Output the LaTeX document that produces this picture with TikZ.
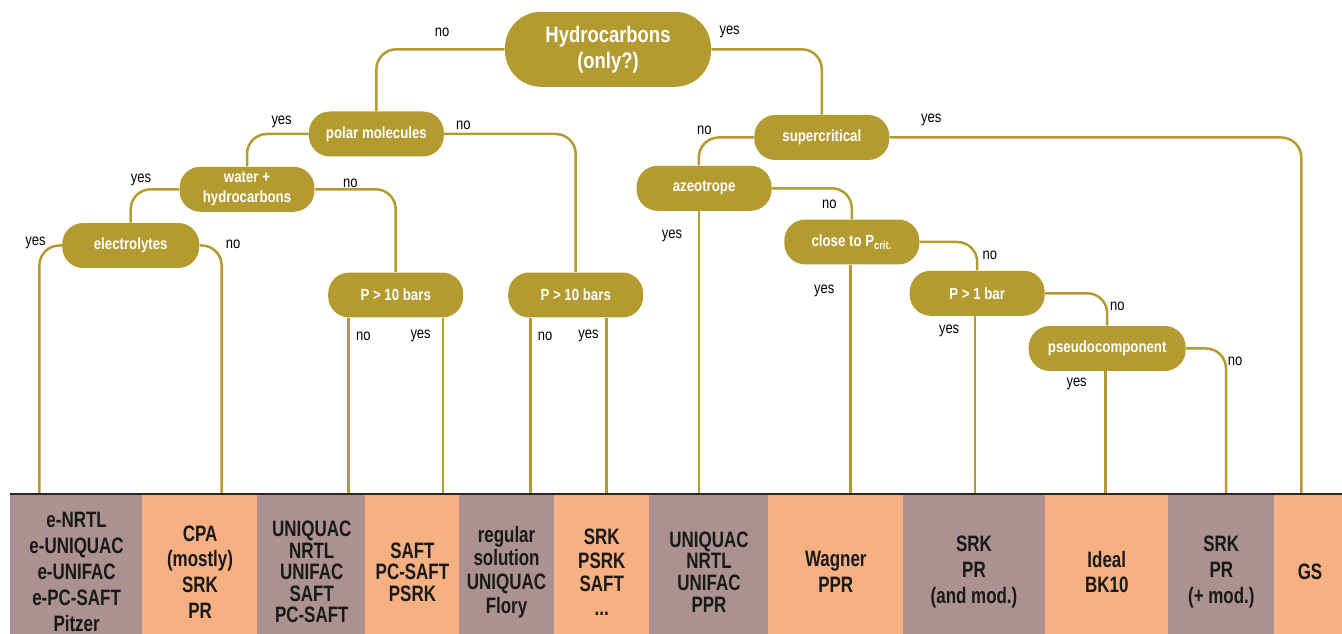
\documentclass[tikz,border=0pt]{standalone}
\usepackage{fontspec}
\setmainfont{Liberation Sans}[FakeStretch=0.82]
\newfontfamily\boxfont{Liberation Sans}[FakeStretch=0.76]
\usepackage{tikz}
\usetikzlibrary{calc}
\usepackage{xcolor}
\definecolor{gold}{HTML}{B39B30}
\definecolor{mauve}{HTML}{AB9291}
\definecolor{peach}{HTML}{F6B082}

\begin{document}
\begin{tikzpicture}[x=0.02cm,y=-0.02cm,
pill/.style={rectangle,rounded corners=0.42cm,fill=gold,text=white,
  font=\fontsize{9.2}{11}\selectfont\bfseries,minimum width=2.7cm,
  minimum height=0.9cm,inner sep=0pt,align=center},
link/.style={draw=gold,line width=0.05cm,rounded corners=0.4cm},
lbl/.style={font=\fontsize{9}{10}\selectfont,inner sep=0pt},
leaf/.style={rectangle,minimum height=3.12cm,inner sep=0pt,align=center,
  text=black!90,font=\boxfont\fontsize{12.7}{14.7}\selectfont\bfseries},
tight/.style={font=\boxfont\fontsize{12.7}{12.3}\selectfont\bfseries}]
%\tikzstyle{every node}=[draw]
\useasboundingbox (0,0) rectangle (1342,634);

% questions
\node[pill,minimum width=4.12cm,minimum height=1.5cm,rounded corners=0.72cm,
  font=\fontsize{12.8}{14.7}\selectfont\bfseries] (root) at (608,49.3) {Hydrocarbons\\(only?)};
\node[pill] (polar) at (376.4,134) {polar molecules};
\node[pill,font=\fontsize{9.2}{11.3}\selectfont\bfseries] (water) at (247,189.3) {water +\\hydrocarbons};
\node[pill,minimum width=2.74cm] (elec) at (130.7,245.5) {electrolytes};
\node[pill] (pa) at (395.7,295) {P > 10 bars};
\node[pill] (pb) at (575.7,295) {P > 10 bars};
\node[pill] (super) at (821.8,137.5) {supercritical};
\node[pill] (azeo) at (704.1,188.3) {azeotrope};
\node[pill] (close) at (851.8,242) {close to P\textsubscript{crit.}};
\node[pill] (pc) at (977.2,293.3) {P > 1 bar};
\node[pill,minimum width=3.14cm] (pseudo) at (1107.2,348.5) {pseudocomponent};

% models
\node[leaf,fill=mauve,minimum width=2.656cm] (b1) at (76.6,572) {e-NRTL\\e-UNIQUAC\\e-UNIFAC\\e-PC-SAFT\\Pitzer};
\node[leaf,fill=peach,minimum width=2.322cm] (b2) at (200.05,572) {CPA\\(mostly)\\SRK\\PR};
\node[leaf,tight,fill=mauve,minimum width=2.186cm] (b3) at (311.75,572) {UNIQUAC\\NRTL\\UNIFAC\\SAFT\\PC-SAFT};
\node[leaf,tight,fill=peach,minimum width=1.882cm] (b4) at (412.45,572) {SAFT\\PC-SAFT\\PSRK};
\node[leaf,fill=mauve,minimum width=1.92cm,font=\boxfont\fontsize{12.7}{13.4}\selectfont\bfseries] (b5) at (506.5,572) {regular\\solution\\UNIQUAC\\Flory};
\node[leaf,fill=peach,minimum width=1.93cm,font=\boxfont\fontsize{12.7}{13.4}\selectfont\bfseries] (b6) at (601.75,572) {SRK\\PSRK\\SAFT\\...};
\node[leaf,tight,fill=mauve,minimum width=2.402cm] (b7) at (709.05,572) {UNIQUAC\\NRTL\\UNIFAC\\PPR};
\node[leaf,fill=peach,minimum width=2.708cm] (b8) at (835.8,572) {Wagner\\PPR};
\node[leaf,fill=mauve,minimum width=2.86cm] (b9) at (974,572) {SRK\\PR\\(and mod.)};
\node[leaf,fill=peach,minimum width=2.492cm] (b10) at (1106.8,572) {Ideal\\BK10};
\node[leaf,fill=mauve,minimum width=2.128cm] (b11) at (1221.3,572) {SRK\\PR\\(+ mod.)};
\node[leaf,fill=peach,minimum width=1.46cm] (b12) at (1310,572) {GS};
\draw[line width=0.04cm,black!85] (b1.north west) -- (b12.north east);

% ends of the branches on the bar
\coordinate (ta) at (39.4,493);
\coordinate (tb) at (221.7,493);
\coordinate (tc) at (348.7,493);
\coordinate (td) at (442.9,493);
\coordinate (te) at (530.6,493);
\coordinate (tf) at (606.3,493);
\coordinate (tg) at (698.8,493);
\coordinate (th) at (850.7,493);
\coordinate (ti) at (974.8,493);
\coordinate (tj) at (1105.3,493);
\coordinate (tk) at (1226,493);
\coordinate (tl) at (1301.3,493);

\draw[link] (root.west) -| (polar.north);
\draw[link] (root.east) -| (super.north);
\draw[link] (polar.west) -| (water.north);
\draw[link] (polar.east) -| (pb.north);
\draw[link] (water.west) -| (elec.north);
\draw[link] (water.east) -| (pa.north);
\draw[link] (elec.west) -| (ta);
\draw[link] (elec.east) -| (tb);
\draw[link] (tc |- pa.south) -- (tc);
\draw[link] (td |- pa.south) -- (td);
\draw[link] (te |- pb.south) -- (te);
\draw[link] (tf |- pb.south) -- (tf);
\draw[link] (super.west) -| (tg |- azeo.north);
\draw[link] (tg |- azeo.south) -- (tg);
\draw[link] (super.east) -| (tl);
\draw[link] (azeo.east) -| (close.north);
\draw[link] (th |- close.south) -- (th);
\draw[link] (close.east) -| (pc.north);
\draw[link] (ti |- pc.south) -- (ti);
\draw[link] (pc.east) -| (pseudo.north);
\draw[link] (tj |- pseudo.south) -- (tj);
\draw[link] (pseudo.east) -| (tk);

% answers
\node[lbl] (n0) at (442,32.3) {no};
\node[lbl] (y0) at (729.6,32.3) {yes};
\node[lbl] (y1) at (281.6,121.7) {yes};
\node[lbl] (n1) at (463.4,125.7) {no};
\node[lbl] (y2) at (141,180.3) {yes};
\node[lbl] (n2) at (350.4,183) {no};
\node[lbl] (y3) at (35.5,242.7) {yes};
\node[lbl] (n3) at (233.2,244.3) {no};
\node[lbl] (n4) at (363.3,336) {no};
\node[lbl] (y4) at (420.6,336) {yes};
\node[lbl] (n5) at (545.1,336) {no};
\node[lbl] (y5) at (588.4,336) {yes};
\node[lbl] (n6) at (704.4,130) {no};
\node[lbl] (y6) at (931.2,120) {yes};
\node[lbl] (y7) at (672,236) {yes};
\node[lbl] (n7) at (829.3,204) {no};
\node[lbl] (y8) at (824.2,291) {yes};
\node[lbl] (n8) at (989.8,255) {no};
\node[lbl] (y9) at (949.1,330.7) {yes};
\node[lbl] (n9) at (1117.3,306) {no};
\node[lbl] (y10) at (1076.6,384.3) {yes};
\node[lbl] (n10) at (1235,361) {no};
\end{tikzpicture}
\end{document}
